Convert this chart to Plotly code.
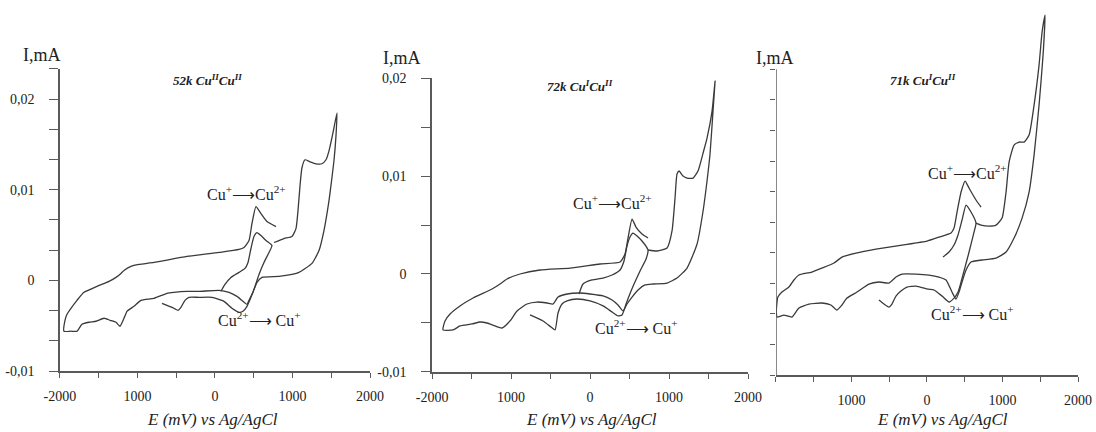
import plotly.graph_objects as go

# ---- data (E in mV, I in mA) ----
# panel 1: 52k Cu(II)Cu(II)
p1_run1_E = [77, 129, 206, 310, 387, 426, 464, 503, 542, 593, 658, 735, 697, 632, 568, 516, 464, 413,
             361, 310, 219, 116, -39, -206, -335, -387, -439, -477, -555, -684]
p1_run1_I = [-0.0012, -0.00044, 0.00033, 0.00088, 0.00132, 0.00198, 0.00352, 0.00484, 0.00528, 0.00495,
             0.0044, 0.00385, 0.00308, 0.00198, 0.00066, -0.00066, -0.00187, -0.00286, -0.00341, -0.00352,
             -0.00308, -0.00231, -0.00187, -0.00187, -0.00187, -0.0022, -0.00297, -0.0033, -0.00297, -0.00253]
p1_run2_E = [761, 890, 993, 1045, 1071, 1097, 1122, 1161, 1226, 1303, 1380, 1432, 1471, 1522, 1574,
             1561, 1535, 1496, 1471, 1406, 1342, 1251, 1084, 993, 826, 606, 542, 490, 439, 413,
             361, 284, 181, 52, -206, -361, -529, -619, -787, -955, -1045, -1135, -1174, -1226, -1277,
             -1355, -1432, -1535, -1625, -1716, -1780, -1858, -1948,
             -1935, -1909, -1858, -1780, -1690, -1522, -1367, -1277, -1213, -1174, -1084, -980, -787,
             -361, 52, 310, 374, 439, 477, 529, 593, 671, 787]
p1_run2_I = [0.00418, 0.00462, 0.00484, 0.00572, 0.0077, 0.01045, 0.01243, 0.01331, 0.01309, 0.01287,
             0.01287, 0.01331, 0.0143, 0.01628, 0.01848,
             0.01595, 0.0132, 0.01045, 0.0088, 0.0055, 0.0033, 0.00187, 0.00088, 0.00066, 0.00044,
             0.00033, -0.00022, -0.00132, -0.0022, -0.00264,
             -0.00231, -0.00176, -0.00132, -0.0011, -0.00121, -0.00121, -0.00132, -0.00143, -0.00198,
             -0.0022, -0.00286, -0.00341, -0.00418, -0.00506, -0.00462, -0.0044, -0.00418, -0.00451,
             -0.00462, -0.00484, -0.00561, -0.00561, -0.00561,
             -0.0044, -0.00374, -0.00308, -0.0022, -0.00132, -0.00066, -0.00011, 0.00033, 0.00077,
             0.0011, 0.00154, 0.00176, 0.00198, 0.00264, 0.00308, 0.00341, 0.00363, 0.0044, 0.00627,
             0.00814, 0.00737, 0.00649, 0.00594]

# panel 2: 72k Cu(I)Cu(II)
p2_run1_E = [-139, -89, 25, 165, 279, 380, 430, 468, 506, 544, 595, 658, 734, 709, 633, 557, 494, 456,
             405, 354, 279, 165, 0, -165, -291, -354, -405, -443, -494, -595, -760]
p2_run1_I = [-0.00204, -0.00102, -0.00061, -0.00041, -0.0001, 0.00041, 0.00133, 0.00286, 0.00377,
             0.00418, 0.00388, 0.00337, 0.00245, 0.00153, 0.00031, -0.00102, -0.00224, -0.00306,
             -0.00418, -0.00428, -0.00388, -0.00326, -0.00275, -0.00255, -0.00275, -0.00306, -0.00398,
             -0.00571, -0.00541, -0.00479, -0.00418]
p2_run2_E = [734, 848, 975, 1038, 1076, 1101, 1127, 1177, 1228, 1304, 1367, 1431, 1481, 1545, 1583,
             1557, 1519, 1481, 1431, 1355, 1228, 1101, 975, 798, 696, 608, 532, 468, 418,
             354, 279, 165, 0, -127, -291, -405, -468, -544, -671, -798, -924, -1013, -1114, -1203,
             -1304, -1393, -1494, -1646, -1734, -1861,
             -1836, -1772, -1646, -1481, -1241, -1139, -1051, -886, -633, -253, 127, 380, 443, 481,
             532, 582, 658, 734]
p2_run2_I = [0.00245, 0.00235, 0.00265, 0.00439, 0.00775, 0.0102, 0.01051, 0.01, 0.00979, 0.00979,
             0.01051, 0.01234, 0.01387, 0.01663, 0.01969,
             0.01663, 0.01224, 0.00949, 0.00643, 0.00306, 0.00061, -0.00041, -0.00092, -0.00102,
             -0.00112, -0.00163, -0.00235, -0.00306, -0.00377,
             -0.00316, -0.00265, -0.00224, -0.00204, -0.00194, -0.00204, -0.00235, -0.00306, -0.00296,
             -0.00286, -0.00306, -0.00377, -0.00479, -0.00551, -0.0053, -0.005, -0.0049, -0.0051,
             -0.0053, -0.00571, -0.00571,
             -0.00479, -0.00408, -0.00326, -0.00245, -0.00153, -0.00102, -0.00051, 0.0, 0.00041,
             0.00061, 0.00102, 0.00122, 0.00204, 0.00367, 0.00561, 0.00479, 0.00408, 0.00367]

# panel 3: 71k Cu(I)Cu(II)
p3_run1_E = [212, 292, 358, 411, 464, 517, 583, 649, 623, 557, 504, 451, 411, 358, 292, 199, 93, 13,
             -146, -265, -345, -411, -464, -504, -570, -636]
p3_run1_I = [0.00286, 0.00341, 0.00417, 0.00526, 0.0069, 0.00853, 0.00777, 0.00657, 0.00559, 0.00341,
             0.00177, 0.00014, -0.00095, -0.00161, -0.00204, -0.00139, -0.00073, -0.00063, -0.0003,
             -0.00041, -0.00084, -0.00139, -0.00226, -0.00259, -0.00226, -0.00183]
p3_run2_E = [649, 716, 822, 914, 994, 1047, 1087, 1153, 1219, 1285, 1352, 1418, 1484, 1524, 1564,
             1537, 1484, 1418, 1352, 1259, 1153, 1047, 914, 729, 583, 517, 464, 424, 384,
             331, 252, 159, 26, -146, -331, -411, -504, -636, -769, -927, -1060, -1126, -1193, -1272,
             -1391, -1564, -1696, -1789, -1895, -1985, -1995,
             -1990, -1975, -1921, -1829, -1762, -1696, -1524, -1232, -1126, -941, -676, -331, 0, 159,
             318, 358, 398, 451, 504, 557, 649, 716]
p3_run2_I = [0.00657, 0.00635, 0.00624, 0.00635, 0.00711, 0.00995, 0.01322, 0.01507, 0.0154, 0.0154,
             0.01616, 0.01943, 0.02379, 0.02739, 0.02924,
             0.02488, 0.01943, 0.01398, 0.00995, 0.00711, 0.00493, 0.00341, 0.00275, 0.00254, 0.00232,
             0.00145, 0.00014, -0.00095, -0.00172,
             -0.00095, 0.00036, 0.00068, 0.0009, 0.00101, 0.00101, 0.00068, 0.00003, 0.00014, -0.00008,
             -0.00095, -0.00161, -0.00237, -0.00292, -0.00237, -0.00215, -0.00226, -0.0027, -0.00368,
             -0.00346, -0.00368, -0.00313,
             -0.00237, -0.0015, -0.00095, -0.00041, 0.00036, 0.0009, 0.00123, 0.00221, 0.00286, 0.0033,
             0.00373, 0.00417, 0.00461, 0.00504, 0.00548, 0.00602, 0.00777, 0.00995, 0.01115, 0.01038,
             0.00908, 0.00831]

# ---- ticks (labelled ones are major, the rest minor) ----
x_tickvals = [-2000, -1000, 0, 1000, 2000]
x_ticktext = ["-2000", "1000", "0", "1000", "2000"]
x_minor = [-1500, -500, 500, 1500]
x_tickvals_p3 = [-1000, 0, 1000, 2000]
x_ticktext_p3 = ["1000", "0", "1000", "2000"]
x_minor_p3 = [-2000, -1500, -500, 500, 1500]

y_tickvals = [-0.01, 0, 0.01, 0.02]
y_ticktext = ["-0,01", "0", "0,01", "0,02"]
y_minor_p1 = [-0.00667, -0.00333, 0.00333, 0.00667, 0.01333, 0.01667, 0.02333]
y_minor_p2 = [-0.005, 0.005, 0.015]
y_ticks_p3 = [-0.01, -0.00667, -0.00333, 0, 0.00333, 0.00667, 0.01, 0.01333, 0.01667, 0.02, 0.02333]

samples = ["<b><i>52k Cu<sup>II</sup>Cu<sup>II</sup></i></b>",
           "<b><i>72k Cu<sup>I</sup>Cu<sup>II</sup></i></b>",
           "<b><i>71k Cu<sup>I</sup>Cu<sup>II</sup></i></b>"]
ox_label = "Cu<sup>+</sup>\u27f6Cu<sup>2+</sup>"
red_label = "Cu<sup>2+</sup>\u27f6 Cu<sup>+</sup>"

SERIF = "Liberation Serif"
LINE = dict(color="#3a3a3a", width=1.3, shape="spline", smoothing=0.5)
AXC = "#5a5a5a"

fig = go.Figure()
runs = [(p1_run1_E, p1_run1_I, "x", "y"), (p1_run2_E, p1_run2_I, "x", "y"),
        (p2_run1_E, p2_run1_I, "x2", "y2"), (p2_run2_E, p2_run2_I, "x2", "y2"),
        (p3_run1_E, p3_run1_I, "x3", "y3"), (p3_run2_E, p3_run2_I, "x3", "y3")]
for e, i, xa, ya in runs:
    fig.add_trace(go.Scatter(x=e, y=i, mode="lines", line=LINE, xaxis=xa, yaxis=ya,
                             showlegend=False, hoverinfo="skip"))

tickfont = dict(family=SERIF, size=14, color="#222")
xcommon = dict(range=[-2000, 2000], tickmode="array", showgrid=False,
               zeroline=False, showline=True, linecolor=AXC, linewidth=1.5, ticks="outside",
               ticklen=5, tickcolor=AXC, tickwidth=1.3, tickfont=tickfont, ticklabelstandoff=6,
               automargin=False)
ycommon = dict(tickmode="array", showgrid=False, zeroline=False, ticks="outside", ticklen=9,
               tickcolor=AXC, tickwidth=1.3, linecolor=AXC, linewidth=1.5, tickfont=tickfont,
               ticklabelstandoff=12, automargin=False)


def minor(vals, length):
    return dict(tickmode="array", tickvals=vals, ticks="outside", ticklen=length,
                tickcolor=AXC, tickwidth=1.3, showgrid=False)


fig.update_layout(
    width=1096, height=432, margin=dict(l=0, r=0, t=0, b=0, pad=0, autoexpand=False),
    paper_bgcolor="white", plot_bgcolor="white",
    font=dict(family=SERIF, color="#222"),
    xaxis=dict(domain=[0.0547, 0.3376], anchor="y", tickvals=x_tickvals, ticktext=x_ticktext,
               minor=minor(x_minor, 5), **xcommon),
    yaxis=dict(domain=[0.1412, 0.8403], anchor="x", range=[-0.01, 0.02333], showline=True,
               tickvals=y_tickvals, ticktext=y_ticktext, minor=minor(y_minor_p1, 9), **ycommon),
    xaxis2=dict(domain=[0.3942, 0.6825], anchor="y2", tickvals=x_tickvals, ticktext=x_ticktext,
                minor=minor(x_minor, 5), **xcommon),
    yaxis2=dict(domain=[0.1389, 0.8194], anchor="x2", range=[-0.01, 0.02], showline=True,
                tickvals=y_tickvals, ticktext=y_ticktext, minor=minor(y_minor_p2, 9), **ycommon),
    xaxis3=dict(domain=[0.708, 0.9836], anchor="y3", tickvals=x_tickvals_p3, ticktext=x_ticktext_p3,
                minor=minor(x_minor_p3, 5), **xcommon),
    yaxis3=dict(domain=[0.1319, 0.9769], anchor="x3", range=[-0.01, 0.0298], showline=False,
                tickvals=y_ticks_p3, showticklabels=False, **ycommon),
)
fig.layout.yaxis3.ticklen = 5

# y spine of panel 3 stops at its top tick while the curve runs above it
fig.add_shape(type="line", xref="x3", yref="y3", x0=-2000, x1=-2000, y0=-0.01, y1=0.02333,
              line=dict(color=AXC, width=1.5))

ann = []
for xc, yc in [(0.0383, 0.8727), (0.3668, 0.8657), (0.7071, 0.8657)]:
    ann.append(dict(text="I,mA", x=xc, y=yc, font=dict(size=18)))
for s, (xc, yc) in zip(samples, [(0.1889, 0.8148), (0.5292, 0.8009), (0.8422, 0.8148)]):
    ann.append(dict(text=s, x=xc, y=yc, font=dict(size=13)))
for xc in [0.1943, 0.5401, 0.8604]:
    ann.append(dict(text="<i>E (mV) vs Ag/AgCl</i>", x=xc, y=0.0278, font=dict(size=17)))
for t, (xc, yc) in [(ox_label, (0.2245, 0.5532)), (red_label, (0.2372, 0.2616)),
                    (ox_label, (0.5593, 0.5324)), (red_label, (0.5812, 0.2431)),
                    (ox_label, (0.8832, 0.6019)), (red_label, (0.8869, 0.2755))]:
    ann.append(dict(text=t, x=xc, y=yc, font=dict(size=16)))
for a in ann:
    a.update(xref="paper", yref="paper", showarrow=False, xanchor="center", yanchor="middle")
    a["font"].update(family=SERIF, color="#222")
fig.update_layout(annotations=ann)

# the page's default body margin would shift the figure by 8 px
fig.write_html("out.html", config={"displayModeBar": False},
               post_script="document.body.style.margin = '0';")
